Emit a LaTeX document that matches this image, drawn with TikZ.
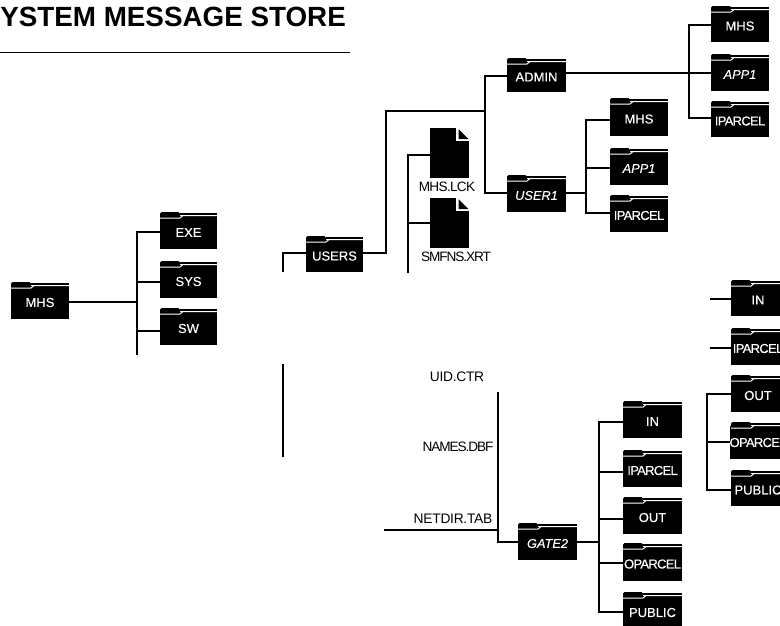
\documentclass[tikz,border=0pt]{standalone}
\usepackage{fontspec}
\setmainfont{Liberation Sans}
\newfontfamily\folderfont[FakeBold=0.25]{Liberation Sans}
\newfontfamily\narrowfont[FakeBold=0.25,LetterSpace=-5.5]{Liberation Sans}
\newfontfamily\tightA[LetterSpace=-2]{Liberation Sans}
\newfontfamily\tightB[LetterSpace=-5]{Liberation Sans}
\newfontfamily\tightC[LetterSpace=-8]{Liberation Sans}
\tikzset{
  x=1pt,y=-1pt,
  wire/.style={line width=2.4pt,black,line cap=rect,line join=miter},
  thinwire/.style={line width=1.8pt,black},
  fbody/.style={fill=black,inner sep=0pt,outer sep=0pt,text=white,align=center},
  filebody/.style={fill=black,inner sep=0pt,outer sep=0pt},
  wide/.style={font=\folderfont\fontsize{13}{14}\selectfont},
  wideit/.style={font=\folderfont\itshape\fontsize{12.8}{14}\selectfont},
  narrow/.style={font=\narrowfont\fontsize{13}{14}\selectfont},
  flabel/.style={text=black,inner sep=0pt},
}
% name, x0, y0, x1, y1, label style, label
\newcommand{\folderbox}[7]{%
  \pgfmathsetmacro{\fw}{#4-#2}\pgfmathsetmacro{\fh}{#5-#3-4}%
  \pgfmathsetmacro{\fcx}{(#2+#4)/2}\pgfmathsetmacro{\fcy}{(#3+4+#5)/2}%
  \pgfmathsetmacro{\tabr}{#2+20}\pgfmathsetmacro{\stepr}{#2+23}%
  \pgfmathsetmacro{\ytab}{#3+6}\pgfmathsetmacro{\ygap}{#3+3.6}\pgfmathsetmacro{\ytop}{#3+2}\pgfmathsetmacro{\ybase}{#3+5}%
  \node[fbody,#6,minimum width=\fw pt,minimum height=\fh pt] (#1) at (\fcx,\fcy) {#7};
  \fill[black,rounded corners=1.5pt] (#2,\ybase) -- (#2,#3) -- (\tabr,#3) -- (\tabr,\ybase) -- cycle;
  \draw[black,line width=1.3pt] (\tabr,\ytop) -- (#4,\ytop);
  \draw[white,line width=1pt] (#2,\ytab) -- (\tabr,\ytab) -- (\stepr,\ygap) -- (#4,\ygap);
}
% name, x0, y0
\newcommand{\filebox}[3]{%
  \pgfmathsetmacro{\fcx}{#2+19.5}\pgfmathsetmacro{\fcy}{#3+25}%
  \node[filebody,minimum width=39pt,minimum height=50pt] (#1) at (\fcx,\fcy) {};
  \fill[white] (#2+26,#3-1) rectangle (#2+40,#3+13);
  \fill[black] (#2+28.5,#3+1) -- (#2+38.5,#3+11) -- (#2+28.5,#3+11) -- cycle;
}
\begin{document}
\begin{tikzpicture}
\useasboundingbox (0,0) rectangle (780,625);
\clip (0,0) rectangle (780,625);

% title
\node[anchor=east,inner sep=0pt,font=\bfseries\fontsize{27.8}{29}\selectfont] (title) at (346,17) {YSTEM MESSAGE STORE};
\coordinate (ruleL) at (0,52); \coordinate (ruleR) at (350,52);
\draw[line width=1pt] (ruleL) -- (ruleR);

% left tree
\folderbox{mhs}{11}{282}{69}{319}{wide}{MHS}
\folderbox{exe}{160}{212}{217}{249}{wide}{EXE}
\folderbox{sys}{160}{261}{217}{298}{wide}{SYS}
\folderbox{sw}{160}{308}{217}{345}{wide}{SW}
\coordinate (tA) at (137,232); \coordinate (tAm) at (137,302); \coordinate (tAb) at (137,354);
\coordinate (tA2) at (137,282); \coordinate (tA3) at (137,331);
\draw[wire] (tA) -- (tAb);
\draw[thinwire] (mhs.east |- tAm) -- (tAm);
\draw[wire] (tA) -- (exe.west |- tA);
\draw[thinwire] (tA2) -- (sys.west |- tA2);
\draw[wire] (tA3) -- (sw.west |- tA3);

% users
\folderbox{users}{306}{236}{363}{272}{wide}{USERS}
\coordinate (uL) at (283,253); \coordinate (uLb) at (283,272);
\draw[thinwire] (uLb) -- (uL) -- (users.west |- uL);
\coordinate (uR1) at (386,253); \coordinate (uR2) at (386,111); \coordinate (uR3) at (485,111);
\draw[wire] (users.east |- uR1) -- (uR1) -- (uR2) -- (uR3);
\coordinate (s1) at (283,364); \coordinate (s2) at (283,457);
\draw[wire,line cap=butt] (s1) -- (s2);

% admin / user1
\folderbox{admin}{507}{58}{566}{92}{wide}{ADMIN}
\folderbox{userone}{507}{175}{566}{212}{wideit}{USER1}
\coordinate (v1) at (485,76); \coordinate (v2) at (485,193);
\draw[wire] (admin.west |- v1) -- (v1) -- (v2) -- (userone.west |- v2);

% admin children
\folderbox{amhs}{711}{6}{769}{42}{wide}{MHS}
\folderbox{aapp}{711}{54}{769}{91}{wideit}{APP1}
\folderbox{aipar}{711}{101}{769}{137}{narrow}{IPARCEL}
\coordinate (b1) at (689,25); \coordinate (b2) at (689,73); \coordinate (b3) at (689,118);
\draw[wire] (amhs.west |- b1) -- (b1) -- (b3) -- (aipar.west |- b3);
\draw[thinwire] (admin.east |- b2) -- (aapp.west |- b2);

% user1 children
\folderbox{umhs}{610}{98}{668}{136}{wide}{MHS}
\folderbox{uapp}{610}{148}{668}{185}{wideit}{APP1}
\folderbox{uipar}{610}{195}{668}{232}{narrow}{IPARCEL}
\coordinate (c1) at (586,120); \coordinate (c2) at (586,168); \coordinate (c3) at (586,213); \coordinate (cm) at (586,193);
\draw[wire] (umhs.west |- c1) -- (c1) -- (c3) -- (uipar.west |- c3);
\draw[thinwire] (c2) -- (uapp.west |- c2);
\draw[thinwire] (userone.east |- cm) -- (cm);

% files
\filebox{flck}{430}{128}
\filebox{fsmf}{430}{198}
\node[flabel,font=\tightB\fontsize{13.6}{14}\selectfont] (lck) at (447,187) {MHS.LCK};
\node[flabel,font=\tightC\fontsize{13.6}{14}\selectfont] (smf) at (456,257) {SMFNS.XRT};
\coordinate (d1) at (408,155); \coordinate (d2) at (408,223); \coordinate (d3) at (408,272);
\draw[wire] (flck.west |- d1) -- (d1) -- (d3);
\draw[wire] (d2) -- (fsmf.west |- d2);

% lower files
\node[flabel,font=\tightA\fontsize{13.8}{14}\selectfont] (uid) at (457,377) {UID.CTR};
\node[flabel,font=\tightC\fontsize{13.6}{14}\selectfont] (names) at (458,447) {NAMES.DBF};
\node[flabel,font=\tightA\fontsize{13.8}{14}\selectfont] (netdir) at (453,519) {NETDIR.TAB};
\folderbox{gate}{518}{523}{577}{560}{wideit}{GATE2}
\coordinate (e1) at (498,392); \coordinate (e2) at (498,530); \coordinate (e3) at (498,542); \coordinate (e0) at (385,530);
\draw[wire,line cap=butt] (e1) -- (e3);
\draw[wire] (e0) -- (e2);
\draw[wire] (e3) -- (gate.west |- e3);

% gate2 children
\folderbox{gin}{623}{401}{682}{438}{wide}{IN}
\folderbox{gipar}{623}{450}{682}{487}{narrow}{IPARCEL}
\folderbox{gout}{623}{497}{682}{534}{wide}{OUT}
\folderbox{gopar}{623}{543}{682}{581}{narrow}{OPARCEL}
\folderbox{gpub}{623}{592}{682}{629}{wide}{PUBLIC}
\coordinate (f1) at (599,422); \coordinate (f2) at (599,472); \coordinate (f3) at (599,519); \coordinate (f4) at (599,563); \coordinate (f5) at (599,612); \coordinate (fm) at (599,542);
\draw[wire] (gin.west |- f1) -- (f1) -- (f5) -- (gpub.west |- f5);
\draw[wire] (f2) -- (gipar.west |- f2);
\draw[thinwire] (f3) -- (gout.west |- f3);
\draw[thinwire] (f4) -- (gopar.west |- f4);
\draw[thinwire] (gate.east |- fm) -- (fm);

% right column
\folderbox{rin}{731}{280}{785}{316}{wide}{IN}
\folderbox{ripar}{731}{328}{785}{365}{narrow}{IPARCEL}
\folderbox{rout}{731}{375}{785}{412}{wide}{OUT}
\folderbox{ropar}{731}{422}{785}{459}{narrow}{OPARCEL}
\folderbox{rpub}{731}{470}{785}{506}{wide}{PUBLIC}
\coordinate (g0) at (710,299); \coordinate (g00) at (710,348);
\draw[thinwire] (g0) -- (rin.west |- g0);
\draw[thinwire] (g00) -- (ripar.west |- g00);
\coordinate (g1) at (707,394); \coordinate (g2) at (707,442); \coordinate (g3) at (707,490);
\draw[wire] (rout.west |- g1) -- (g1) -- (g3) -- (rpub.west |- g3);
\draw[thinwire] (g2) -- (ropar.west |- g2);
\end{tikzpicture}
\end{document}
